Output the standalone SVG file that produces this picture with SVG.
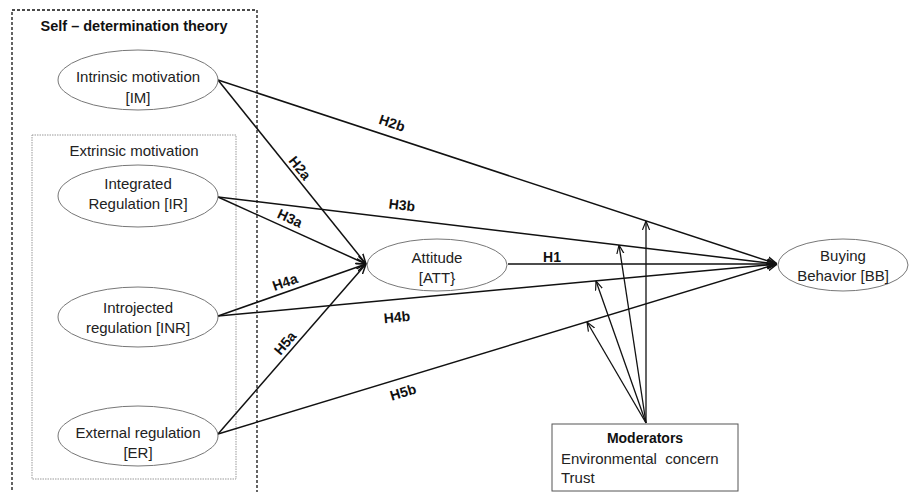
<svg xmlns="http://www.w3.org/2000/svg" width="909" height="492" viewBox="0 0 909 492">
<style>
text{font-family:"Liberation Sans",Arial,sans-serif;fill:#222;}
.t{font-size:15px;text-anchor:middle;dominant-baseline:central;}
.b{font-size:14px;font-weight:bold;text-anchor:middle;dominant-baseline:central;fill:#111;}
.node{fill:#fff;stroke:#777;stroke-width:1;}
.e{stroke:#111;stroke-width:1.5;fill:none;marker-end:url(#arr);}
.m{stroke:#111;stroke-width:1.3;fill:none;marker-end:url(#arr2);}
</style>
<defs>
<marker id="arr" viewBox="0 0 10 10" refX="10" refY="5" markerWidth="10" markerHeight="10" markerUnits="userSpaceOnUse" orient="auto">
<path d="M0,1 L10,5 L0,9" fill="none" stroke="#111" stroke-width="1.5"/>
</marker>
<marker id="arr2" viewBox="0 0 10 10" refX="10" refY="5" markerWidth="9" markerHeight="9" markerUnits="userSpaceOnUse" orient="auto">
<path d="M0,1 L10,5 L0,9" fill="none" stroke="#111" stroke-width="1.3"/>
</marker>
</defs>
<rect width="909" height="492" fill="#fff"/>
<g id="sdt-box">
<rect x="12" y="10" width="245" height="490" fill="none" stroke="#111" stroke-width="1.3" stroke-dasharray="3,2"/>
<text x="134" y="26" class="b" style="font-size:14.5px">Self – determination theory</text>
</g>
<g id="extrinsic-box">
<rect x="32" y="135" width="204" height="344" fill="none" stroke="#999" stroke-width="1" stroke-dasharray="1.5,1"/>
<text x="134" y="150" class="t">Extrinsic motivation</text>
</g>
<g id="connectors">
<line class="e" x1="218" y1="80" x2="366" y2="264"/>
<line class="e" x1="218" y1="80" x2="777" y2="264"/>
<line class="e" x1="218" y1="197" x2="366" y2="264"/>
<line class="e" x1="218" y1="197" x2="777" y2="264"/>
<line class="e" x1="218" y1="316" x2="366" y2="264"/>
<line class="e" x1="218" y1="316" x2="777" y2="264"/>
<line class="e" x1="218" y1="434" x2="366" y2="264"/>
<line class="e" x1="218" y1="434" x2="777" y2="264"/>
<line class="e" x1="508" y1="264" x2="777" y2="264"/>
<line class="m" x1="646" y1="423" x2="646" y2="221"/>
<line class="m" x1="646" y1="423" x2="619" y2="245"/>
<line class="m" x1="646" y1="423" x2="596" y2="281"/>
<line class="m" x1="646" y1="423" x2="587" y2="322"/>
<text class="b" transform="translate(392,123) rotate(18.2)">H2b</text>
<text class="b" transform="translate(300,168) rotate(51.2)">H2a</text>
<text class="b" transform="translate(402,205) rotate(6.8)">H3b</text>
<text class="b" transform="translate(290,218) rotate(24.5)">H3a</text>
<text class="b" transform="translate(285,282) rotate(-19.5)">H4a</text>
<text class="b" transform="translate(285,343) rotate(-49.3)">H5a</text>
<text class="b" transform="translate(397,317) rotate(-5.3)">H4b</text>
<text class="b" transform="translate(403,392) rotate(-16.9)">H5b</text>
<text class="b" x="552" y="257">H1</text>
</g>
<g id="IM">
<ellipse class="node" cx="138" cy="80" rx="80" ry="30"/>
<text class="t" x="138" y="76">Intrinsic motivation</text>
<text class="t" x="138" y="97">[IM]</text>
</g>
<g id="IR">
<ellipse class="node" cx="138" cy="196" rx="80" ry="31"/>
<text class="t" x="138" y="183">Integrated</text>
<text class="t" x="138" y="203">Regulation [IR]</text>
</g>
<g id="INR">
<ellipse class="node" cx="138" cy="317" rx="80" ry="30"/>
<text class="t" x="138" y="307">Introjected</text>
<text class="t" x="138" y="327">regulation [INR]</text>
</g>
<g id="ER">
<ellipse class="node" cx="138" cy="436" rx="80" ry="30"/>
<text class="t" x="138" y="432">External regulation</text>
<text class="t" x="138" y="452">[ER]</text>
</g>
<g id="ATT">
<ellipse class="node" cx="437" cy="265" rx="70" ry="26"/>
<text class="t" x="437" y="257">Attitude</text>
<text class="t" x="437" y="277">[ATT}</text>
</g>
<g id="BB">
<ellipse class="node" cx="843" cy="265" rx="65" ry="26"/>
<text class="t" x="843" y="255">Buying</text>
<text class="t" x="843" y="275">Behavior [BB]</text>
</g>
<g id="moderators">
<rect x="552" y="424" width="186" height="67" fill="#fff" stroke="#555" stroke-width="1"/>
<text class="b" x="645" y="438" style="font-size:14px">Moderators</text>
<text x="561" y="458" style="font-size:15px;dominant-baseline:central" xml:space="preserve">Environmental  concern</text>
<text x="561" y="477" style="font-size:15px;dominant-baseline:central">Trust</text>
</g>
</svg>
